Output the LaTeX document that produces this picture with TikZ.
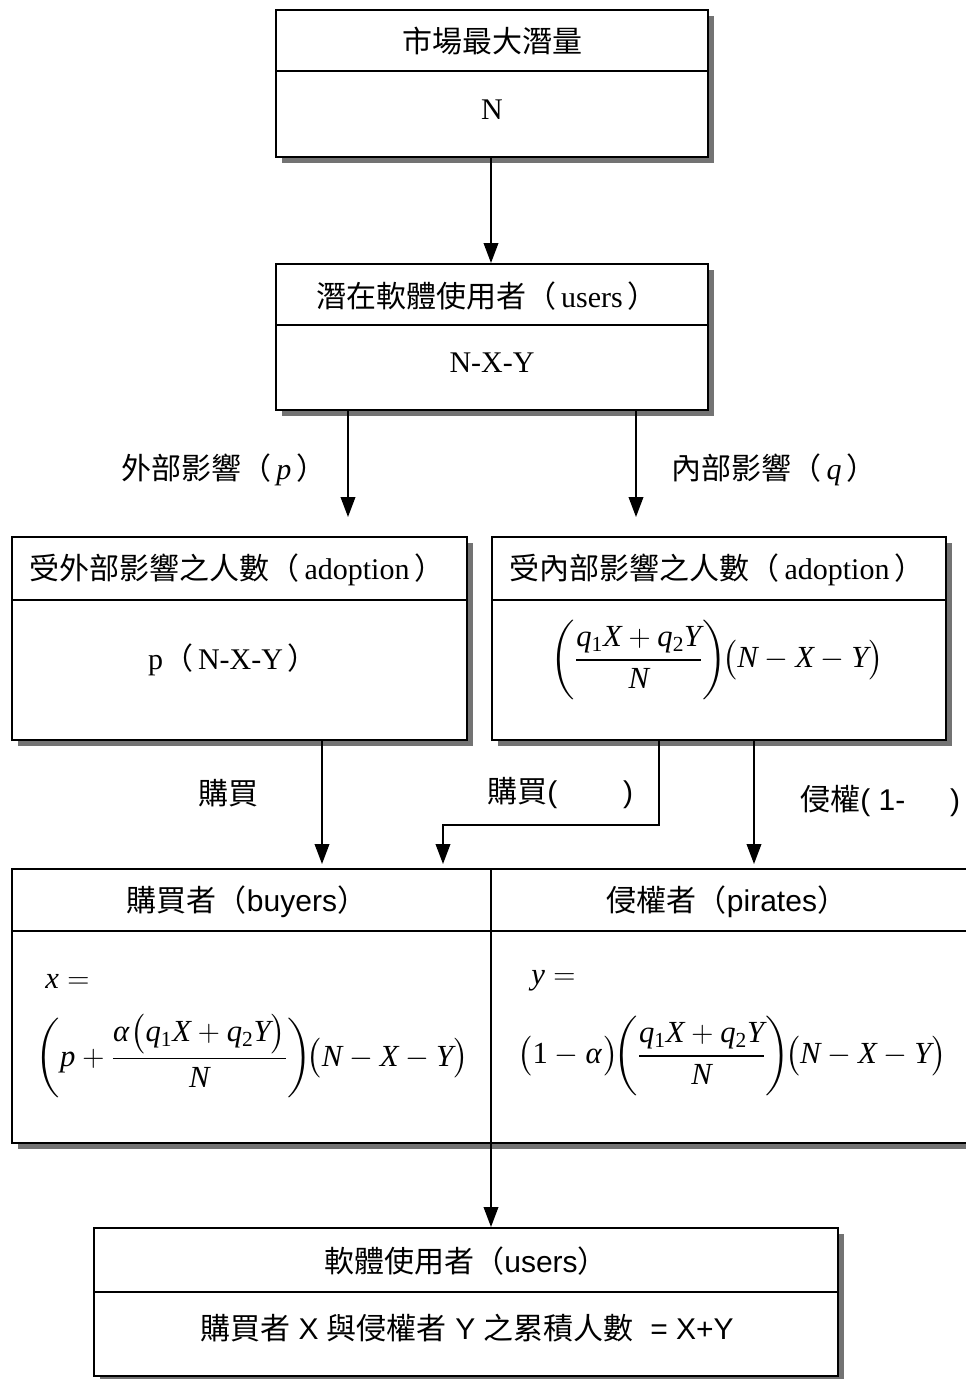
\documentclass[tikz,border=0pt]{standalone}
\usepackage{fix-cm}
\usepackage{amsmath}
\usepackage{mathspec}
\setmainfont{Liberation Serif}
\setmathsfont(Digits,Latin,Greek){Liberation Serif}
\newfontfamily\cjk{Noto Sans CJK TC}
\newfontfamily\arial{Liberation Sans}
\usetikzlibrary{shadows,calc,arrows.meta}
\begin{document}
\begin{tikzpicture}[x=0.75pt,y=-0.75pt,
  box/.style={draw, line width=1.5pt, fill=white, rectangle, inner sep=0pt,
    drop shadow={shadow xshift=4.5pt, shadow yshift=-4.5pt, fill=black!55, opacity=1}},
  divider/.style={line width=1.5pt},
  arr/.style={line width=1.2pt, -{Triangle[width=11pt,length=15pt]}},
  link/.style={line width=1.2pt},
  txt/.style={font=\fontsize{22.5}{27}\selectfont, inner sep=0pt},
  mtxt/.style={font=\fontsize{23}{28}\selectfont, inner sep=0pt}]
\useasboundingbox (0,0) rectangle (966,1379);

% ---------- boxes ----------
\node[box, minimum width=432*0.75pt, minimum height=147*0.75pt] (b1) at (492,83.5) {};
\node[box, minimum width=432*0.75pt, minimum height=146*0.75pt] (b2) at (492,337) {};
\node[box, minimum width=455*0.75pt, minimum height=203*0.75pt] (b3) at (239.5,638.5) {};
\node[box, minimum width=454*0.75pt, minimum height=203*0.75pt] (b4) at (719,638.5) {};
\node[box, minimum width=968*0.75pt, minimum height=274*0.75pt] (b5) at (496,1006) {};
\node[box, minimum width=744*0.75pt, minimum height=148*0.75pt] (b6) at (466,1302) {};

% ---------- dividers ----------
\draw[divider] ($(b1.north west)+(0,62)$) -- ($(b1.north east)+(0,62)$);
\draw[divider] ($(b2.north west)+(0,62)$) -- ($(b2.north east)+(0,62)$);
\draw[divider] ($(b3.north west)+(0,64)$) -- ($(b3.north east)+(0,64)$);
\draw[divider] ($(b4.north west)+(0,64)$) -- ($(b4.north east)+(0,64)$);
\draw[divider] ($(b5.north west)+(0,63)$) -- ($(b5.north east)+(0,63)$);
\draw[divider] ($(b6.north west)+(0,65)$) -- ($(b6.north east)+(0,65)$);

% x positions for connectors
\coordinate (xm) at (491,0);
\coordinate (xl) at (348,0);
\coordinate (xr) at (636,0);
\coordinate (xa) at (322,0);
\coordinate (xb) at (659,0);
\coordinate (xc) at (443,0);
\coordinate (xd) at (754,0);
\coordinate (bend) at (659,825);
\coordinate (bend2) at (443,825);

\draw[link] (b5.north -| xm) -- (b5.south -| xm);

% ---------- texts ----------
\node[txt] (t1h) at (492,41) {\cjk 市場最大潛量};
\node[txt] (t1b) at (492,110) {N};
\node[txt] (t2h) at (487,296) {{\cjk 潛在軟體使用者（}\,users\,{\cjk ）}};
\node[txt] (t2b) at (492,363) {N-X-Y};
\node[txt] (t3h) at (237,570) {{\cjk 受外部影響之人數（}\,adoption\,{\cjk ）}};
\node[txt] (t3b) at (233,660) {p{\cjk （}\,N-X-Y\,{\cjk ）}};
\node[txt] (t4h) at (717,570) {{\cjk 受內部影響之人數（}\,adoption\,{\cjk ）}};
\node[mtxt] (t4b) at (717,660) {$\biggl(\dfrac{q_1X+q_2Y}{N}\biggr)\!\bigl(N-X-Y\bigr)$};
\node[txt] (t5h) at (247,902) {{\cjk 購買者（}{\arial buyers}{\cjk ）}};
\node[txt] (t6h) at (727,902) {{\cjk 侵權者（}{\arial pirates}{\cjk ）}};
\node[mtxt, anchor=west] (t5x) at (45,981) {$x=$};
\node[mtxt, anchor=west] (t6y) at (531,981) {$y=$};
\node[mtxt] (t5f) at (252,1056) {$\biggl(p+\dfrac{\alpha\bigl(q_1X+q_2Y\bigr)}{N}\biggr)\!\bigl(N-X-Y\bigr)$};
\node[mtxt] (t6f) at (732,1056) {$\bigl(1-\alpha\bigr)\!\biggl(\dfrac{q_1X+q_2Y}{N}\biggr)\!\bigl(N-X-Y\bigr)$};
\node[txt] (t7h) at (466,1261) {{\cjk 軟體使用者（}{\arial users}{\cjk ）}};
\node[txt] (t7b) at (467,1328) {{\cjk 購買者}{\arial\ X\ }{\cjk 與侵權者}{\arial\ Y\ }{\cjk 之累積人數}{\arial\ \ = X+Y}};

% ---------- connector labels ----------
\node[txt] (l1) at (224,470) {{\cjk 外部影響（}\,$p$\,{\cjk ）}};
\node[txt] (l2) at (774,470) {{\cjk 內部影響（}\,$q$\,{\cjk ）}};
\node[txt] (l3) at (228,793) {\cjk 購買};
\node[txt, anchor=west] (l4) at (487,793) {{\cjk 購買}{\arial (\hspace{2.2em})}};
\node[txt, anchor=west] (l5) at (800,801) {{\cjk 侵權}{\arial ( 1-\hspace{1.5em})}};

% ---------- connectors ----------
\draw[arr] (b1.south -| xm) -- (b2.north -| xm);
\draw[arr, shorten >=19*0.75pt] (b2.south -| xl) -- (b3.north -| xl);
\draw[arr, shorten >=19*0.75pt] (b2.south -| xr) -- (b4.north -| xr);
\draw[arr, shorten >=4*0.75pt] (b3.south -| xa) -- (b5.north -| xa);
\draw[arr, shorten >=4*0.75pt] (b4.south -| xb) -- (bend) -- (bend2) -- (b5.north -| xc);
\draw[arr, shorten >=4*0.75pt] (b4.south -| xd) -- (b5.north -| xd);
\draw[arr] (b5.south -| xm) -- (b6.north -| xm);
\end{tikzpicture}
\end{document}
